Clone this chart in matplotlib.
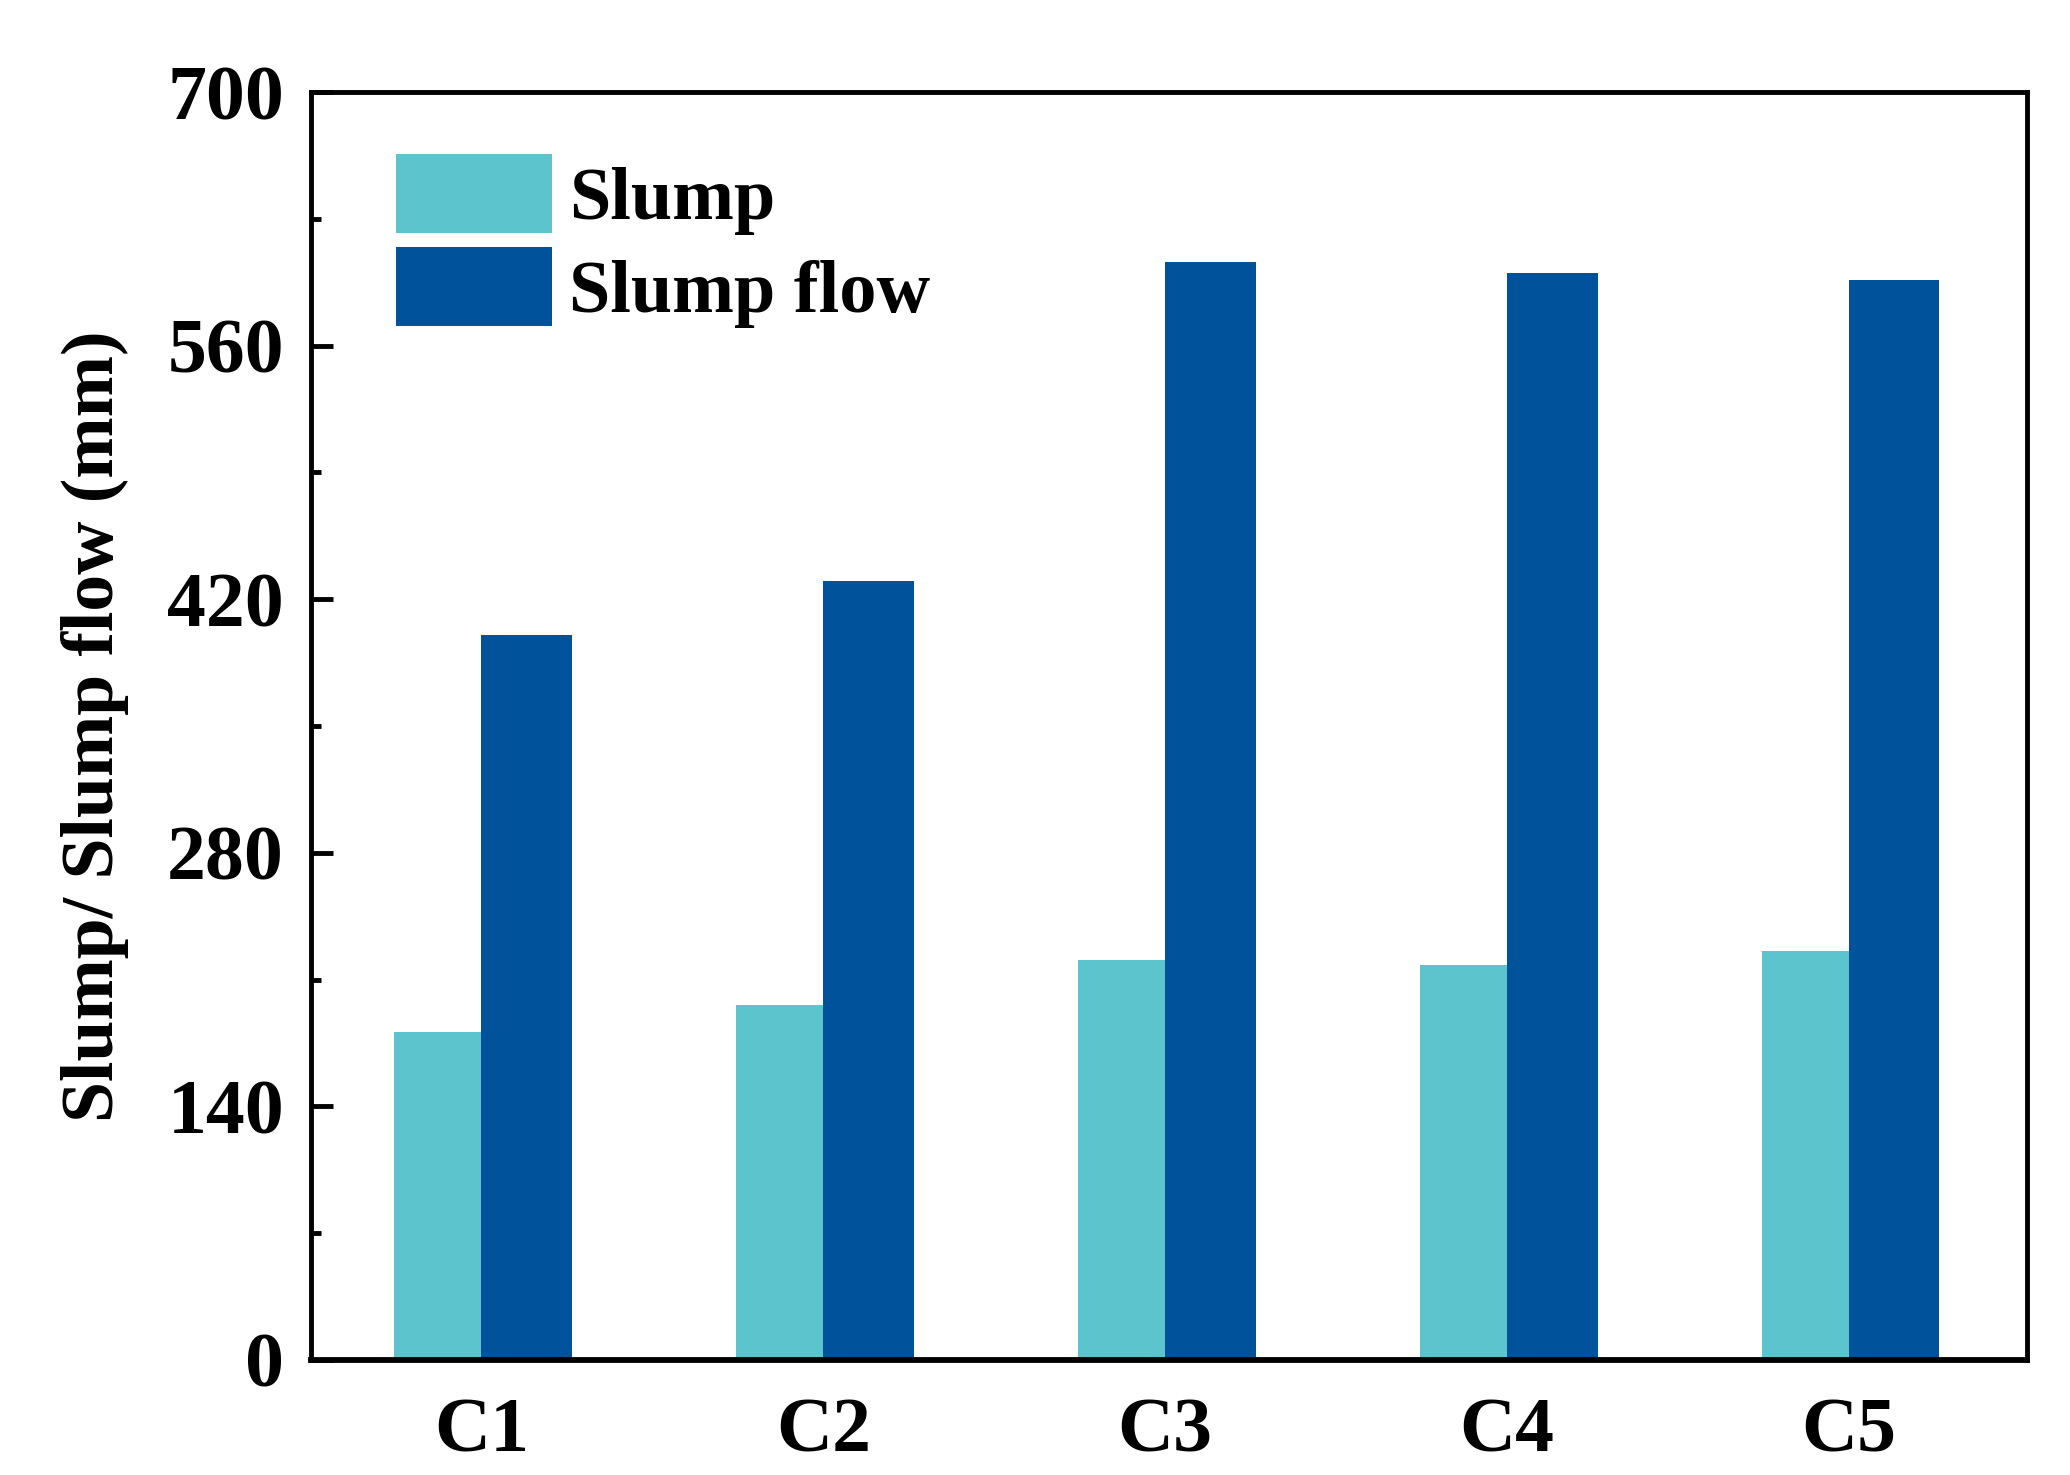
import numpy as np
import matplotlib
matplotlib.use("Agg")
import matplotlib.pyplot as plt
from matplotlib.ticker import MultipleLocator

# data
mixes = ["C1", "C2", "C3", "C4", "C5"]
slump = [181, 196, 221, 218, 226]
slump_flow = [400, 430, 606, 600, 596]
yticks = [0, 140, 280, 420, 560, 700]

plt.rcParams['font.family'] = ['Liberation Serif', 'DejaVu Serif']
plt.rcParams['font.weight'] = 'bold'

fig = plt.figure(figsize=(20.7, 14.75), dpi=100)
ax = fig.add_axes([0.150, 0.078, 0.829, 0.8596])

x = np.arange(1, len(mixes) + 1)
w = 0.255
ax.bar(x - w / 2, slump, width=w, color='#5BC4CD', label='Slump')
ax.bar(x + w / 2 + 0.005, slump_flow, width=w + 0.01, color='#00529B', label='Slump flow')

ax.set_xlim(0.5, 5.52)
ax.set_ylim(0, 700)
ax.set_xticks(x)
ax.set_xticklabels(mixes)
ax.set_yticks(yticks)
ax.yaxis.set_minor_locator(MultipleLocator(70))

ax.tick_params(axis='y', which='major', direction='in', length=16, width=3.5,
               labelsize=56, pad=19)
ax.tick_params(axis='y', which='minor', direction='in', length=7, width=3.5)
ax.tick_params(axis='x', length=0, labelsize=56, pad=27)
for lbl in ax.get_xticklabels() + ax.get_yticklabels():
    lbl.set_fontweight('bold')

for s in ax.spines.values():
    s.set_linewidth(3.5)
ax.spines['bottom'].set_linewidth(4.2)

ax.set_ylabel("Slump/ Slump flow (mm)", fontsize=53, fontweight='bold')
ax.yaxis.set_label_coords(-0.106, 0.5)

leg = ax.legend(loc='upper left', bbox_to_anchor=(0.05, 0.951), frameon=False,
                fontsize=53.5, handlelength=2.1, handleheight=1.26,
                handletextpad=0.22, labelspacing=0.17, borderpad=0, borderaxespad=0)
for t in leg.get_texts():
    t.set_fontweight('bold')

fig.savefig("out.png", dpi=100)
